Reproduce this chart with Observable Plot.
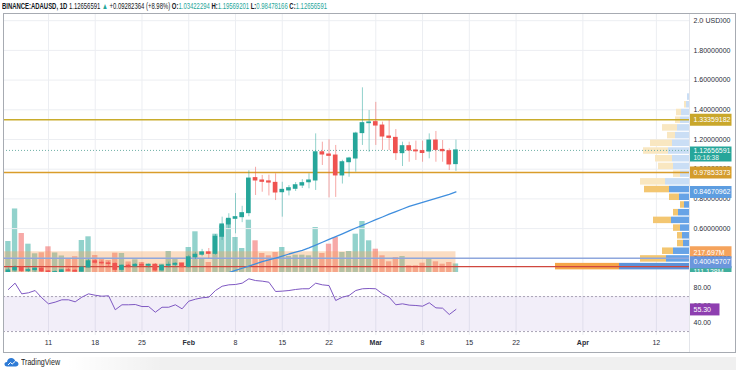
<!DOCTYPE html>
<html>
<head>
<meta charset="utf-8">
<script src="https://cdn.jsdelivr.net/npm/d3@7"></script>
<script src="https://cdn.jsdelivr.net/npm/@observablehq/plot@0.6"></script>
<style>
  html,body{margin:0;padding:0;background:#fff;}
  #wrap{position:relative;width:736px;height:370px;overflow:hidden;font-family:"Liberation Sans",Arial,sans-serif;color:#131722;}
  #header{position:absolute;left:2px;top:1px;font-size:8.5px;line-height:10px;white-space:nowrap;color:#131722;transform-origin:0 0;}
  #header .up{color:#26a69a;}
  .layer{position:absolute;left:0;}
  .layer svg{display:block;}
  #frame{position:absolute;left:3px;top:13px;width:733px;height:340px;border:1px solid #a7abb2;box-sizing:border-box;pointer-events:none;z-index:10;}
  #sep{position:absolute;left:689px;top:13px;width:1px;height:339px;background:#e3e5ea;z-index:9;}
  #logo{position:absolute;left:4px;top:355px;height:14px;display:flex;align-items:center;gap:2px;font-size:8.5px;color:#222;z-index:11;}
  #logo span{display:inline-block;transform-origin:0 50%;}
  #shade{position:absolute;left:0;top:357px;width:736px;height:13px;background:linear-gradient(to right,rgba(0,0,0,0) 0%,rgba(0,0,0,0) 9%,rgba(0,0,0,0.06) 22%,rgba(0,0,0,0.06) 100%);}
</style>
</head>
<body>
<div id="wrap">
  <div id="header"><b>BINANCE:ADAUSD, 1D</b> 1.12656591 <span class="up">▲</span> +0.09282364 (+8.98%) <b>O:</b><span class="up">1.03422294</span> <b>H:</b><span class="up">1.19569201</span> <b>L:</b><span class="up">0.98478166</span> <b>C:</b><span class="up">1.12656591</span></div>
  <div id="vol" class="layer" style="top:13px;z-index:1"></div>
  <div id="prof" class="layer" style="top:13px;z-index:2"></div>
  <div id="main" class="layer" style="top:13px;z-index:3"></div>
  <div id="rsi" class="layer" style="top:272px;z-index:1"></div>
  <div id="sep"></div>
  <div id="frame"></div>
  <div id="shade"></div>
  <div id="logo"><svg width="15" height="10" viewBox="0 0 15 10"><path d="M3.2 9.5 C1.3 9.5 0.3 8.2 0.5 6.8 C0.7 5.5 1.8 4.8 3 4.9 C3.3 2.6 5 1 7.2 1 C9.3 1 10.9 2.4 11.3 4.3 C13.1 4.3 14.5 5.5 14.5 7 C14.5 8.5 13.3 9.5 11.8 9.5 Z" fill="#2e7bd6"/><path d="M4 8 L6.5 5.5 L8.2 7 L11 4.5" stroke="#fff" stroke-width="1" fill="none"/></svg><span id="tv">TradingView</span></div>
</div>
<script>
// ---------- data ----------
const firstDay = "2021-01-05";
const open = [0.300,0.318,0.336,0.315,0.320,0.330,0.312,0.300,0.307,0.319,
  0.316,0.310,0.338,0.380,0.370,0.366,0.362,0.322,0.350,0.345,
  0.356,0.350,0.356,0.318,0.350,0.356,0.363,0.342,0.407,0.424,
  0.440,0.430,0.545,0.628,0.666,0.677,0.704,0.940,0.924,0.918,
  0.908,0.845,0.857,0.868,0.890,0.912,0.924,1.114,1.099,1.092,
  0.958,1.047,1.072,1.243,1.310,1.317,1.294,1.220,1.211,1.108,
  1.155,1.126,1.122,1.119,1.193,1.130,1.121,1.03422294];
const high = [0.335,0.350,0.345,0.335,0.336,0.338,0.318,0.316,0.324,0.332,
  0.326,0.345,0.392,0.392,0.385,0.378,0.370,0.356,0.360,0.365,
  0.372,0.362,0.365,0.358,0.375,0.370,0.366,0.420,0.440,0.460,
  0.466,0.560,0.677,0.700,0.836,0.750,0.990,1.013,0.958,0.960,
  0.969,0.912,0.890,0.910,0.930,0.969,1.238,1.182,1.198,1.160,
  1.060,1.080,1.249,1.548,1.395,1.450,1.317,1.328,1.267,1.182,
  1.182,1.189,1.189,1.238,1.254,1.193,1.137,1.19569201];
const low = [0.290,0.305,0.300,0.295,0.305,0.298,0.275,0.290,0.296,0.310,
  0.300,0.305,0.335,0.360,0.355,0.340,0.300,0.305,0.335,0.340,
  0.345,0.335,0.310,0.310,0.335,0.340,0.335,0.335,0.392,0.410,
  0.400,0.420,0.520,0.600,0.565,0.640,0.680,0.823,0.845,0.820,
  0.789,0.677,0.820,0.850,0.870,0.868,0.857,1.025,0.807,0.810,
  0.900,0.946,0.980,1.160,1.114,1.160,1.126,1.126,1.059,1.018,
  1.047,1.059,1.047,1.070,1.047,1.047,0.991,0.98478166];
const close = [0.318,0.336,0.315,0.320,0.330,0.312,0.300,0.307,0.319,0.316,
  0.310,0.338,0.380,0.370,0.366,0.362,0.322,0.350,0.345,0.356,
  0.350,0.356,0.318,0.350,0.356,0.363,0.342,0.407,0.424,0.440,
  0.430,0.545,0.628,0.666,0.677,0.704,0.937,0.924,0.915,0.910,
  0.843,0.861,0.872,0.892,0.906,0.924,1.114,1.099,1.090,0.958,
  1.047,1.072,1.240,1.310,1.315,1.294,1.220,1.211,1.108,1.155,
  1.126,1.120,1.109,1.193,1.130,1.121,1.032,1.12656591];
// daily volume, millions
const volume = [403,826,507,368,243,256,334,254,215,182,
  205,416,464,221,182,156,251,247,137,165,
  130,108,108,108,273,182,130,325,529,182,
  130,498,607,693,455,312,680,412,247,217,
  260,325,208,225,225,217,585,247,368,455,
  260,273,498,663,412,303,217,139,195,208,
  87,87,121,182,139,108,130,111];
const rsi = [78.1,85.3,73.1,74.3,76.9,68.6,61.7,63.6,66.3,66.3,
  64.0,69.3,73.1,71.5,70.4,70.9,54.9,60.6,60.6,60.9,
  58.6,58.6,52.1,57.8,57.8,60.6,56.0,64.7,67.0,68.6,
  69.3,76.9,81.8,83.4,83.8,85.3,90.3,88.3,87.6,86.4,
  75.8,76.2,76.9,78.1,78.9,78.9,85.3,83.4,82.6,65.5,
  69.3,71.2,76.9,78.9,79.2,78.9,73.1,69.3,60.6,61.7,
  60.2,59.8,59.0,62.9,57.1,56.7,49.5,55.3];
const maStart = "2021-02-06";
const ma = [0.290,0.304,0.318,0.333,0.348,0.363,0.377,0.390,0.402,0.415,
  0.429,0.441,0.453,0.470,0.489,0.508,0.527,0.546,0.565,0.585,
  0.604,0.622,0.641,0.660,0.678,0.697,0.715,0.732,0.749,0.763,
  0.777,0.790,0.803,0.817,0.831,0.8467];
const tickDates = ["2021-01-11","2021-01-18","2021-01-25","2021-02-01","2021-02-08","2021-02-15","2021-02-22","2021-03-01","2021-03-08","2021-03-15","2021-03-22","2021-04-01","2021-04-12"];
const tickLabels = ["11","18","25","Feb","8","15","22","Mar","8","15","22","Apr","12"];
const priceTicks = [0.4,0.6,0.8,1.0,1.2,1.4,1.6,1.8,2.0];
const rsiTicks = [80,60,40];
const rsiBand = {lower: 30, upper: 70};
const resistance = 1.33359182, support = 0.97853373, baseLevel = 0.40045707;
const maLast = 0.84670962, countdown = "10:16:38";
const volMA = 217.697;
// visible-range volume profile, rows from the bottom
const profileLow = 0.318, profileStep = 0.0519;
const profileDown = [640,260,110,60,50,70,180,50,40,100,250,250,70,150,170,250,220,80,150,50,50,20,0];
const profileUp   = [700,230,160,60,70,90,180,110,50,100,200,240,90,160,170,210,170,140,120,90,80,30,20];
const valueAreaHigh = 0.89;
const rangeBox = {start: "2021-01-04", end: "2021-03-13", low: 0.29, high: 0.444};
// visible ranges
const viewStart = "2021-01-04T06:29Z", viewEnd = "2021-04-16T23:02Z";
const priceView = [0.3044, 2.0485];
const rsiView = [25.5, 97.5];
const volView = [0, 3367];
const profView = [6860, 0];

// ---------- build ----------
const DAY = 864e5;
const parse = s => new Date(s);
const t0 = +parse(firstDay);
const bars = open.map((o, i) => ({date: new Date(t0 + i * DAY), o, h: high[i], l: low[i], c: close[i], v: volume[i], rsi: rsi[i], up: close[i] >= open[i]}));
const maData = ma.map((v, i) => ({date: new Date(+parse(maStart) + i * DAY), v}));
const last = bars[bars.length - 1];
const UP = "#26a69a", DOWN = "#ef5350";
const font = `"Liberation Sans",Arial,sans-serif`;
const FS = 7;
const baseStyle = {fontFamily: font, fontSize: FS + "px", background: "transparent", color: "#2a2e39", overflow: "visible"};
const xScale = () => ({type: "utc", domain: [parse(viewStart), parse(viewEnd)], axis: null});
const box = (w, h, oy = 0) => ({draw(ctx) { ctx.rect(0, oy - h / 2, w, h); }});
const tickMap = new Map(tickDates.map((d, i) => [+parse(d), tickLabels[i]]));
const fmtTick = d => tickMap.get(+d);
const isMonth = s => /[A-Za-z]/.test(s);
const dayTicks = tickDates.filter((d, i) => !isMonth(tickLabels[i])).map(parse);
const monthTicks = tickDates.filter((d, i) => isMonth(tickLabels[i])).map(parse);
const M = {width: 736, marginLeft: 3, marginRight: 47, marginTop: 0};

function label(value, text, color, opts = {}) {
  const {dy = 0, h = 12, w = 42, oy = 0} = opts;
  return [
    Plot.dot([value], {y: d => d, frameAnchor: "right", symbol: box(w, h, oy), r: 5, fill: color, stroke: null, dy}),
    Plot.text([text], {y: () => value, frameAnchor: "right", dx: 4, dy, textAnchor: "start", fill: "#fff", fontSize: FS})
  ];
}

// volume layer
const volPlot = Plot.plot({
  ...M, height: 259, marginBottom: 0,
  x: xScale(), y: {domain: volView, axis: null},
  style: {...baseStyle, overflow: "hidden"},
  marks: [
    Plot.ruleX(tickDates.map(parse), {stroke: "#eceef2"}),
    Plot.rect(bars, {x1: d => new Date(+d.date - 0.4 * DAY), x2: d => new Date(+d.date + 0.4 * DAY), y1: 0, y2: "v", fill: d => d.up ? UP : DOWN, fillOpacity: 0.5}),
    ...label(volMA, "217.697M", "#f5a35c", {dy: -3.5}),
    ...label(last.v, "111.128M", "#3fae9c", {dy: 8})
  ]
});
document.getElementById("vol").append(volPlot);

// volume profile layer
const rows = profileUp.map((up, i) => {
  const lo = profileLow + i * profileStep;
  return {lo, hi: lo + profileStep, up, down: profileDown[i], total: up + profileDown[i]};
});
const pocRow = rows.reduce((a, b) => b.total > a.total ? b : a);
const pocPrice = (pocRow.lo + pocRow.hi) / 2;
const inVA = r => r.hi <= valueAreaHigh + 1e-6;
const upFill = r => r === pocRow ? "#5c92d9" : inVA(r) ? "#67a3e6" : "#cadef5";
const downFill = r => r === pocRow ? "#f5a548" : inVA(r) ? "#f3c671" : "#f9e7c1";
const profPlot = Plot.plot({
  ...M, height: 259, marginBottom: 0,
  x: {domain: profView, axis: null}, y: {domain: priceView, axis: null},
  style: baseStyle,
  marks: [
    Plot.ruleY(priceTicks, {stroke: "#eceef2"}),
    Plot.rect(rows, {x1: 0, x2: "up", y1: "lo", y2: "hi", fill: upFill, insetTop: 0.6, insetBottom: 0.6}),
    Plot.rect(rows, {x1: "up", x2: d => d.up + d.down, y1: "lo", y2: "hi", fill: downFill, insetTop: 0.6, insetBottom: 0.6})
  ]
});
document.getElementById("prof").append(profPlot);

// price layer
const mainPlot = Plot.plot({
  ...M, height: 259, marginBottom: 0,
  x: xScale(), y: {domain: priceView},
  style: baseStyle,
  marks: [
    Plot.axisY({anchor: "right", ticks: priceTicks, tickFormat: d3.format(".8f"), tickSize: 0, tickPadding: 4}),
    Plot.dot([2.0], {y: d => d, frameAnchor: "right", dx: 14, symbol: box(17, 9), r: 5, fill: "#fff", stroke: null}),
    Plot.text(["USD"], {y: () => 2.0, frameAnchor: "right", dx: 16, textAnchor: "start", fill: "#2a2e39"}),
    Plot.rect([rangeBox], {x1: d => parse(d.start), x2: d => parse(d.end), y1: "low", y2: "high", fill: "#f5a05a", fillOpacity: 0.36, clip: true}),
    Plot.ruleY([pocPrice], {stroke: "#d0473f", strokeWidth: 1.3}),
    Plot.ruleY([baseLevel], {stroke: "#8fa7dd", strokeWidth: 1.5}),
    Plot.ruleY([resistance], {stroke: "#c9ac2c", strokeWidth: 1.5}),
    Plot.ruleY([support], {stroke: "#d99d2a", strokeWidth: 1.5}),
    Plot.ruleY([last.c], {stroke: "#6fb0a6", strokeDasharray: "1,2"}),
    Plot.line(maData, {x: "date", y: "v", stroke: "#3f8ede", strokeWidth: 1.3, clip: true}),
    Plot.ruleX(bars, {x: "date", y1: "l", y2: "h", stroke: d => d.up ? UP : DOWN, strokeOpacity: 0.5, clip: true}),
    Plot.rect(bars, {x1: d => new Date(+d.date - 0.35 * DAY), x2: d => new Date(+d.date + 0.35 * DAY), y1: "o", y2: "c", fill: d => d.up ? UP : DOWN, insetTop: -0.5, insetBottom: -0.5, clip: true}),
    ...label(resistance, d3.format(".8f")(resistance), "#c9a72b"),
    ...label(support, d3.format(".8f")(support), "#d49c2c"),
    ...label(maLast, d3.format(".8f")(maLast), "#5d9de0"),
    ...label(baseLevel, d3.format(".8f")(baseLevel), "#6b96dc", {dy: 4}),
    ...label(last.c, d3.format(".8f")(last.c), "#26a69a", {h: 15, oy: 3.5}),
    Plot.text([countdown], {y: () => last.c, frameAnchor: "right", dx: 4, dy: 7, textAnchor: "start", fill: "#e8f6f3", fontSize: 6.5})
  ]
});
document.getElementById("main").append(mainPlot);

// RSI pane + time axis
const rsiPlot = Plot.plot({
  ...M, height: 80, marginBottom: 17,
  x: {type: "utc", domain: [parse(viewStart), parse(viewEnd)]}, y: {domain: rsiView},
  style: baseStyle,
  marks: [
    Plot.ruleX(tickDates.map(parse), {stroke: "#eceef2"}),
    Plot.rect([rsiBand], {x1: () => parse(viewStart), x2: () => parse(viewEnd), y1: "lower", y2: "upper", fill: "#7e57c2", fillOpacity: 0.1}),
    Plot.ruleY([rsiBand.upper, rsiBand.lower], {stroke: "#a9a4b5", strokeDasharray: "2,2"}),
    Plot.line(bars, {x: "date", y: "rsi", stroke: "#7e57c2", strokeWidth: 1}),
    Plot.axisY({anchor: "right", ticks: rsiTicks, tickFormat: d3.format(".2f"), tickSize: 0, tickPadding: 4}),
    Plot.axisX({ticks: dayTicks, tickFormat: fmtTick, tickSize: 0, tickPadding: 5}),
    Plot.axisX({ticks: monthTicks, tickFormat: fmtTick, tickSize: 0, tickPadding: 5, fontWeight: "bold"}),
    ...label(last.rsi, d3.format(".2f")(last.rsi), "#8e3fb0", {w: 30})
  ]
});
document.getElementById("rsi").append(rsiPlot);

// condense the header and logo text horizontally to the reference widths
const hdr = document.getElementById("header");
hdr.style.transform = `scaleX(${325 / hdr.getBoundingClientRect().width})`;
const tv = document.getElementById("tv");
tv.style.transform = `scaleX(${39 / tv.getBoundingClientRect().width})`;
</script>
</body>
</html>
